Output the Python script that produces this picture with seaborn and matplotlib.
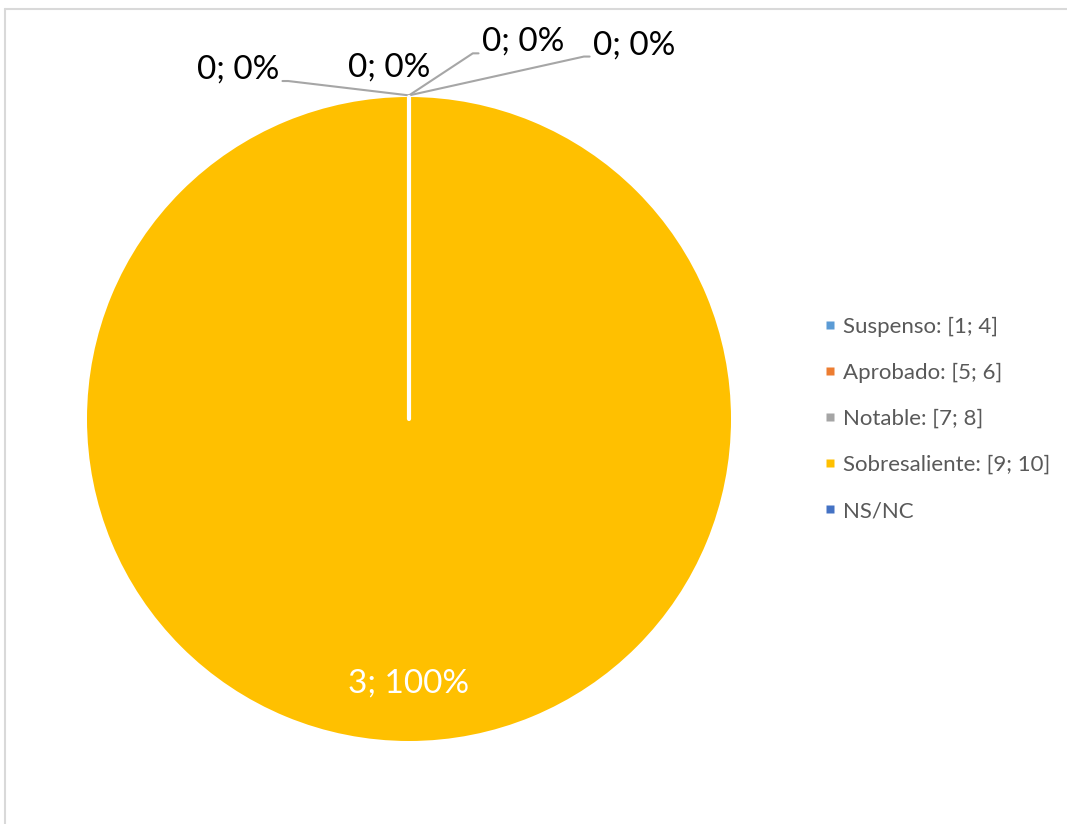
import numpy as np
import matplotlib
matplotlib.use("Agg")
import matplotlib.pyplot as plt
from matplotlib.lines import Line2D
import seaborn as sns

# datos
categorias = ["Suspenso: [1; 4]", "Aprobado: [5; 6]", "Notable: [7; 8]",
              "Sobresaliente: [9; 10]", "NS/NC"]
valores = [0, 0, 0, 3, 0]
colores = ["#5B9BD5", "#ED7D31", "#A5A5A5", "#FFC000", "#4472C4"]

# posiciones de las etiquetas de los sectores vacios (coordenadas del eje)
pos_etiquetas = [(-0.531, 1.085), (-0.062, 1.091), (0.354, 1.171), (0.699, 1.161)]

sns.set_theme(style="white")
plt.rcParams['font.family'] = ['Lato', 'DejaVu Sans']

W, H = 1067, 824
CX, CY, R = 409, 419, 322

fig = plt.figure(figsize=(W / 100, H / 100), dpi=100)
ax = fig.add_axes([0, 0, 1, 1])

total = sum(valores)
wedges, textos, autotextos = ax.pie(
    valores, colors=colores, startangle=90, counterclock=False,
    radius=1, autopct=lambda p: f"{round(p * total / 100)}; {p:.0f}%" if p > 0 else "",
    pctdistance=0.82, wedgeprops=dict(linewidth=0),
    textprops=dict(color="white", fontsize=24))

# borde blanco del sector (de centro a arriba)
ang = np.deg2rad(90)
ax.plot([0, np.cos(ang)], [0, np.sin(ang)], color="white", lw=3, zorder=5)

# etiquetas de sectores con valor 0
ceros = [i for i, v in enumerate(valores) if v == 0]
for k, i in enumerate(ceros[:len(pos_etiquetas)]):
    tx, ty = pos_etiquetas[k]
    p = valores[i] / total * 100
    if k == 1:
        ax.text(tx, ty, f"{valores[i]}; {p:.0f}%", ha="center", va="center",
                fontsize=24, color="black")
        continue
    if tx < 0:
        rel, angA = (1.0, 0.12), 0
    else:
        rel, angA = (0.0, 0.12), 180
    ax.annotate(f"{valores[i]}; {p:.0f}%", xy=(np.cos(ang), np.sin(ang) + 0.005),
                xytext=(tx, ty), ha="center", va="center", fontsize=24, color="black",
                arrowprops=dict(arrowstyle="-", color="#A6A6A6", lw=1.5,
                                relpos=rel, shrinkA=0, shrinkB=0,
                                connectionstyle=f"arc,angleA={angA},angleB=0,armA=9,armB=0,rad=0"))

ax.set_xlim(-CX / R, (W - CX) / R)
ax.set_ylim(-(H - CY) / R, CY / R)
ax.set_aspect("equal")
ax.axis("off")

# leyenda
handles = [Line2D([0], [0], marker="s", color="none", markerfacecolor=c,
                  markeredgecolor="none", markersize=6) for c in colores]
leg = fig.legend(handles, categorias, loc="center left",
                 bbox_to_anchor=(823 / W, 1 - 419 / H), frameon=False,
                 fontsize=16, handlelength=0.6, handletextpad=0.3,
                 labelspacing=1.17, borderpad=0, borderaxespad=0)
for t in leg.get_texts():
    t.set_color("#595959")

# marco del grafico
fig.add_artist(Line2D([4.5 / W, 4.5 / W], [0, 1 - 9 / H], color="#D9D9D9", lw=1.5,
                      transform=fig.transFigure))
fig.add_artist(Line2D([4.5 / W, 1], [1 - 9 / H, 1 - 9 / H], color="#D9D9D9", lw=1.5,
                      transform=fig.transFigure))

plt.savefig("out.png", dpi=100)
